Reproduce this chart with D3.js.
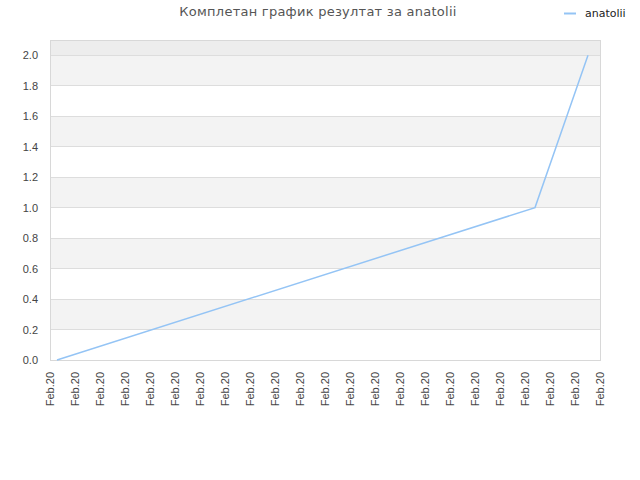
<!DOCTYPE html>
<html>
<head>
<meta charset="utf-8">
<script src="https://cdn.jsdelivr.net/npm/d3@7"></script>
<style>
  body { margin: 0; background: #fff; }
  svg { font-family: "DejaVu Sans", sans-serif; }
</style>
</head>
<body>
<div id="chart"></div>
<script>
// chart data
var seriesName = "anatolii";
var titleText = "Комплетан график резултат за anatolii";
var tickLabels = ["Feb.20","Feb.20","Feb.20","Feb.20","Feb.20","Feb.20","Feb.20","Feb.20",
  "Feb.20","Feb.20","Feb.20","Feb.20","Feb.20","Feb.20","Feb.20","Feb.20","Feb.20","Feb.20",
  "Feb.20","Feb.20","Feb.20","Feb.20","Feb.20"];
// x position of each point, in tick-index units
var pointX = [0.28, 19.4, 21.52];
var pointY = [0, 1, 2];
var yTicks = [0, 0.2, 0.4, 0.6, 0.8, 1.0, 1.2, 1.4, 1.6, 1.8, 2.0];

var width = 640, height = 480;
var margin = { top: 40, right: 40, bottom: 120, left: 50 };
var plotW = width - margin.left - margin.right;
var plotH = height - margin.top - margin.bottom;

var svg = d3.select("#chart").append("svg").attr("width", width).attr("height", height);

var x = d3.scaleLinear().domain([0, tickLabels.length - 1]).range([0, plotW]);
var y = d3.scaleLinear().domain([0, 2.1]).range([plotH, 0]);

var g = svg.append("g").attr("transform", "translate(" + margin.left + "," + margin.top + ")");

// alternating bands
var bands = [];
for (var i = 0; i < yTicks.length; i++) {
  var lo = yTicks[i];
  var hi = i + 1 < yTicks.length ? yTicks[i + 1] : 2.1;
  bands.push({ lo: lo, hi: hi, i: i });
}
g.selectAll("rect.band").data(bands).enter().append("rect")
  .attr("class", "band")
  .attr("x", 0).attr("width", plotW)
  .attr("y", function (d) { return y(d.hi); })
  .attr("height", function (d) { return y(d.lo) - y(d.hi); })
  .attr("fill", function (d) {
    if (d.i === yTicks.length - 1) return "#ededed";
    return d.i % 2 === 1 ? "#f3f3f3" : "#ffffff";
  });

// grid lines
g.selectAll("line.grid").data(yTicks).enter().append("line")
  .attr("x1", 0).attr("x2", plotW)
  .attr("y1", function (d) { return y(d); }).attr("y2", function (d) { return y(d); })
  .attr("stroke", "#dddddd").attr("stroke-width", 1)
  .attr("shape-rendering", "crispEdges");

// frame
g.append("rect").attr("x", 0).attr("y", 0).attr("width", plotW).attr("height", plotH)
  .attr("fill", "none").attr("stroke", "#d8d8d8").attr("shape-rendering", "crispEdges");

// y axis
var yAxis = d3.axisLeft(y).tickValues(yTicks).tickFormat(d3.format(".1f")).tickSize(0).tickPadding(12);
var yg = g.append("g").call(yAxis);
yg.select(".domain").remove();
yg.selectAll("text").attr("fill", "#444").style("font-size", "11px");

// x axis
var xAxis = d3.axisBottom(x).tickValues(d3.range(tickLabels.length))
  .tickFormat(function (d) { return tickLabels[d]; }).tickSize(0);
var xg = g.append("g").attr("transform", "translate(0," + plotH + ")").call(xAxis);
xg.select(".domain").remove();
xg.selectAll("text")
  .attr("fill", "#444")
  .style("font-family", "'Liberation Sans', Arial, sans-serif")
  .style("font-size", "11px")
  .attr("text-anchor", "end")
  .attr("transform", "rotate(-90)")
  .attr("x", -12).attr("y", 0).attr("dy", "0.35em");

// series line
var pts = pointX.map(function (v, i) { return [v, pointY[i]]; });
g.append("path").datum(pts)
  .attr("fill", "none").attr("stroke", "#94c4f5").attr("stroke-width", 1.5)
  .attr("d", d3.line().x(function (d) { return x(d[0]); }).y(function (d) { return y(d[1]); }));

// title
svg.append("text").attr("x", 318).attr("y", 16).attr("text-anchor", "middle")
  .attr("fill", "#555").style("font-size", "13px").style("letter-spacing", "0.25px")
  .text(titleText);

// legend
svg.append("line").attr("x1", 564).attr("x2", 576).attr("y1", 13.5).attr("y2", 13.5)
  .attr("stroke", "#94c4f5").attr("stroke-width", 2);
svg.append("text").attr("x", 585).attr("y", 17).attr("fill", "#222")
  .style("font-size", "11px").text(seriesName);
</script>
</body>
</html>
